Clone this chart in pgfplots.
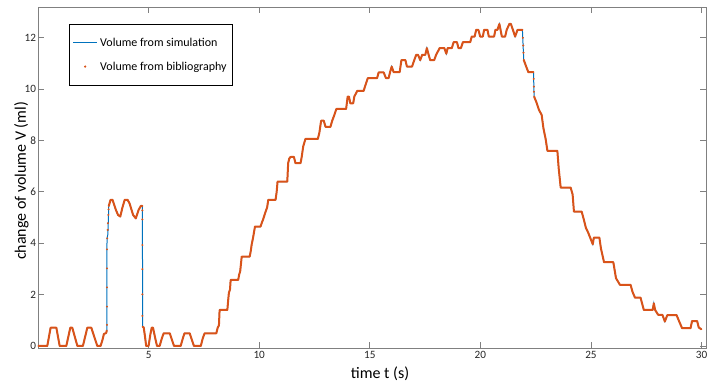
\documentclass[border=0pt]{standalone}
\usepackage{fontspec}
\setmainfont{Carlito}
\usepackage{pgfplots}
\pgfplotsset{compat=1.18}
\definecolor{mblue}{RGB}{0,114,189}
\definecolor{morange}{RGB}{217,83,25}
\definecolor{axgray}{RGB}{128,128,128}
\pgfplotsset{
  lineleg/.style={legend image code/.code={\draw[##1] (0pt,0pt) -- (24pt,0pt);}},
  dotleg/.style={legend image code/.code={\draw[##1] plot coordinates {(12pt,0pt)};}},
}
\begin{document}
\begin{tikzpicture}
\begin{axis}[
  width=668pt, height=341pt, scale only axis,
  xmin=0, xmax=30.2, ymin=-0.08, ymax=13.2,
  xtick={5,10,...,30}, ytick={0,2,...,12},
  axis line style={axgray, line width=0.8pt},
  every tick/.style={axgray, line width=0.8pt},
  major tick length=6pt,
  tick align=inside,
  xtick pos=both, ytick pos=both,
  ticklabel style={font=\fontsize{11.2}{13}\selectfont, text=black!85},
  yticklabel style={xshift=1.5pt},
  /pgf/number format/assume math mode=true,
  xlabel={time t (s)}, ylabel={change of volume V (ml)},
  label style={font=\fontsize{16}{19}\selectfont, inner sep=1pt},
  xlabel style={at={(axis description cs:0.512,-0.0762)}, anchor=center},
  ylabel style={at={(axis description cs:-0.0247,0.49)}, anchor=center},
  legend style={at={(axis description cs:0.0469,0.950)}, anchor=north west,
    draw=black, line width=0.6pt, fill=white,
    font=\fontsize{12}{14}\selectfont,
    inner xsep=3pt, inner ysep=11pt, row sep=9pt,
    nodes={inner sep=2.5pt}},
  legend cell align=left,
]
\addplot[mblue, line width=1pt, lineleg] coordinates {
(0,0) (0.42,0) (0.57,0.71) (0.83,0.71) (0.98,0) (1.28,0) (1.46,0.71) (1.55,0.71) (1.78,0) (2.03,0) (2.23,0.71) (2.41,0.71) (2.68,0) (2.83,0) (2.92,0.25) (2.98,0.47) (3.08,0.5) (3.11,0.6)
(3.12,4.19) (3.16,4.35) (3.20,5.45) (3.28,5.69) (3.37,5.69) (3.52,5.3) (3.62,5.1) (3.72,5.04) (3.82,5.4) (3.92,5.69) (4.05,5.69) (4.14,5.55) (4.3,5.1) (4.42,4.97) (4.55,5.3) (4.65,5.45) (4.72,5.45)
(4.73,0.75) (4.78,0.72) (4.84,0.35) (4.89,0) (5.0,0) (5.08,0.45) (5.14,0.71) (5.2,0.71) (5.3,0.3) (5.38,0) (5.5,0) (5.6,0.3) (5.68,0.49) (5.96,0.49) (6.05,0.25) (6.15,0) (6.45,0) (6.55,0.3) (6.62,0.49) (6.86,0.49) (6.95,0.25) (7.05,0) (7.36,0) (7.45,0.3) (7.53,0.49) (8.06,0.49) (8.12,0.7) (8.18,0.8) (8.21,1.40) (8.56,1.40) (8.6,1.8) (8.63,2.07) (8.68,2.2) (8.71,2.57) (9.05,2.57) (9.1,2.8) (9.14,2.9) (9.21,3.48) (9.57,3.48) (9.62,3.7) (9.66,3.95) (9.72,4.2) (9.81,4.65) (10.06,4.65) (10.12,4.8) (10.17,4.91) (10.29,5.23) (10.36,5.4) (10.41,5.69) (10.74,5.69) (10.79,6.0) (10.83,6.40) (11.27,6.40) (11.31,7.12) (11.36,7.3) (11.42,7.36) (11.57,7.36) (11.64,7.12) (11.87,7.12) (11.92,7.35) (11.99,7.77) (12.09,8.06) (12.65,8.06) (12.72,8.3) (12.80,8.77) (12.92,8.77) (13.0,8.53) (13.22,8.53) (13.30,8.77) (13.40,9.0) (13.49,9.23) (13.93,9.23) (14.0,9.71) (14.06,9.71) (14.12,9.45) (14.25,9.45) (14.30,9.71) (14.43,9.93) (14.72,9.93) (14.82,10.2) (14.91,10.43) (15.33,10.43) (15.40,10.65) (15.63,10.65) (15.73,10.43) (15.85,10.43) (15.93,10.7) (15.99,10.88) (16.08,10.66) (16.35,10.66) (16.43,11.13) (16.61,11.13) (16.68,10.88) (16.91,10.88) (17.01,11.13) (17.10,11.34) (17.18,11.34) (17.28,11.13) (17.37,11.34) (17.51,11.34) (17.58,11.6) (17.66,11.34) (17.73,11.13) (17.91,11.13) (18.0,11.34) (18.16,11.6) (18.37,11.6) (18.46,11.38) (18.52,11.6) (18.71,11.6) (18.79,11.83) (18.94,11.83) (19.01,11.6) (19.12,11.6) (19.21,11.83) (19.54,11.83) (19.61,12.05) (19.74,12.05) (19.81,12.31) (19.91,12.31) (19.99,12.05) (20.11,12.05) (20.17,12.31) (20.32,12.31) (20.38,12.05) (20.62,12.05) (20.68,12.31) (20.77,12.31) (20.86,12.54) (20.97,12.05) (21.12,12.05) (21.19,12.31) (21.31,12.54) (21.38,12.54) (21.47,12.31) (21.57,12.05) (21.68,12.31) (21.90,12.31)
(21.96,11.14) (22.07,10.88) (22.17,10.66) (22.40,10.66)
(22.43,9.71) (22.55,9.45) (22.65,9.19) (22.77,9.0) (22.85,8.48) (22.95,8.06) (23.03,7.6) (23.48,7.6) (23.54,6.92) (23.63,6.17) (24.08,6.17) (24.17,5.9) (24.23,5.23) (24.58,5.23) (24.68,4.91) (24.77,4.6) (24.88,4.4) (25.08,3.96) (25.13,4.22) (25.38,4.22) (25.45,3.8) (25.59,3.26) (26.01,3.26) (26.13,2.64) (26.31,2.38) (26.79,2.38) (26.88,2.1) (26.99,1.88) (27.24,1.88) (27.39,1.40) (27.79,1.40) (27.84,1.66) (27.90,1.40) (28.04,1.21) (28.23,1.21) (28.34,0.95) (28.45,1.2) (28.87,1.2) (28.99,0.95) (29.12,0.69) (29.50,0.69) (29.57,0.97) (29.80,0.97) (29.87,0.72) (29.99,0.65)
};
\addlegendentry{Volume from simulation}
\addplot[morange, line width=2pt, line join=round, line cap=round, unbounded coords=jump, forget plot] coordinates {
(0,0) (0.42,0) (0.57,0.71) (0.83,0.71) (0.98,0) (1.28,0) (1.46,0.71) (1.55,0.71) (1.78,0) (2.03,0) (2.23,0.71) (2.41,0.71) (2.68,0) (2.83,0) (2.92,0.25) (2.98,0.47) (3.08,0.5) (3.11,0.6)
(3.15,nan)
(3.20,5.45) (3.28,5.69) (3.37,5.69) (3.52,5.3) (3.62,5.1) (3.72,5.04) (3.82,5.4) (3.92,5.69) (4.05,5.69) (4.14,5.55) (4.3,5.1) (4.42,4.97) (4.55,5.3) (4.65,5.45) (4.72,5.45)
(4.725,nan)
(4.73,0.75) (4.78,0.72) (4.84,0.35) (4.89,0) (5.0,0) (5.08,0.45) (5.14,0.71) (5.2,0.71) (5.3,0.3) (5.38,0) (5.5,0) (5.6,0.3) (5.68,0.49) (5.96,0.49) (6.05,0.25) (6.15,0) (6.45,0) (6.55,0.3) (6.62,0.49) (6.86,0.49) (6.95,0.25) (7.05,0) (7.36,0) (7.45,0.3) (7.53,0.49) (8.06,0.49) (8.12,0.7) (8.18,0.8) (8.21,1.40) (8.56,1.40) (8.6,1.8) (8.63,2.07) (8.68,2.2) (8.71,2.57) (9.05,2.57) (9.1,2.8) (9.14,2.9) (9.21,3.48) (9.57,3.48) (9.62,3.7) (9.66,3.95) (9.72,4.2) (9.81,4.65) (10.06,4.65) (10.12,4.8) (10.17,4.91) (10.29,5.23) (10.36,5.4) (10.41,5.69) (10.74,5.69) (10.79,6.0) (10.83,6.40) (11.27,6.40) (11.31,7.12) (11.36,7.3) (11.42,7.36) (11.57,7.36) (11.64,7.12) (11.87,7.12) (11.92,7.35) (11.99,7.77) (12.09,8.06) (12.65,8.06) (12.72,8.3) (12.80,8.77) (12.92,8.77) (13.0,8.53) (13.22,8.53) (13.30,8.77) (13.40,9.0) (13.49,9.23) (13.93,9.23) (14.0,9.71) (14.06,9.71) (14.12,9.45) (14.25,9.45) (14.30,9.71) (14.43,9.93) (14.72,9.93) (14.82,10.2) (14.91,10.43) (15.33,10.43) (15.40,10.65) (15.63,10.65) (15.73,10.43) (15.85,10.43) (15.93,10.7) (15.99,10.88) (16.08,10.66) (16.35,10.66) (16.43,11.13) (16.61,11.13) (16.68,10.88) (16.91,10.88) (17.01,11.13) (17.10,11.34) (17.18,11.34) (17.28,11.13) (17.37,11.34) (17.51,11.34) (17.58,11.6) (17.66,11.34) (17.73,11.13) (17.91,11.13) (18.0,11.34) (18.16,11.6) (18.37,11.6) (18.46,11.38) (18.52,11.6) (18.71,11.6) (18.79,11.83) (18.94,11.83) (19.01,11.6) (19.12,11.6) (19.21,11.83) (19.54,11.83) (19.61,12.05) (19.74,12.05) (19.81,12.31) (19.91,12.31) (19.99,12.05) (20.11,12.05) (20.17,12.31) (20.32,12.31) (20.38,12.05) (20.62,12.05) (20.68,12.31) (20.77,12.31) (20.86,12.54) (20.97,12.05) (21.12,12.05) (21.19,12.31) (21.31,12.54) (21.38,12.54) (21.47,12.31) (21.57,12.05) (21.68,12.31) (21.90,12.31)
(21.93,nan)
(21.96,11.14) (22.07,10.88) (22.17,10.66) (22.40,10.66)
(22.415,nan)
(22.43,9.71) (22.55,9.45) (22.65,9.19) (22.77,9.0) (22.85,8.48) (22.95,8.06) (23.03,7.6) (23.48,7.6) (23.54,6.92) (23.63,6.17) (24.08,6.17) (24.17,5.9) (24.23,5.23) (24.58,5.23) (24.68,4.91) (24.77,4.6) (24.88,4.4) (25.08,3.96) (25.13,4.22) (25.38,4.22) (25.45,3.8) (25.59,3.26) (26.01,3.26) (26.13,2.64) (26.31,2.38) (26.79,2.38) (26.88,2.1) (26.99,1.88) (27.24,1.88) (27.39,1.40) (27.79,1.40) (27.84,1.66) (27.90,1.40) (28.04,1.21) (28.23,1.21) (28.34,0.95) (28.45,1.2) (28.87,1.2) (28.99,0.95) (29.12,0.69) (29.50,0.69) (29.57,0.97) (29.80,0.97) (29.87,0.72) (29.99,0.65)
};
\addplot[morange, only marks, mark=*, mark size=0.8pt, dotleg] coordinates {
(3.12,0.82) (3.12,1.53) (3.12,2.28) (3.12,3.02) (3.12,3.76) (3.13,4.19) (3.15,4.52) (3.16,4.78) (3.18,5.10) (3.19,5.32)
(4.72,5.28) (4.72,4.93) (4.72,3.93) (4.72,2.99) (4.72,2.01) (4.72,1.17)
(21.92,12.0) (21.94,11.7) (21.95,11.42)
(22.41,10.4) (22.42,10.1) (22.42,9.9)
};
\addlegendentry{Volume from bibliography}
\end{axis}
\path (current axis.south west) ++(-38pt,-37pt);
\path (current axis.north east) ++(12pt,7pt);
\end{tikzpicture}
\end{document}
